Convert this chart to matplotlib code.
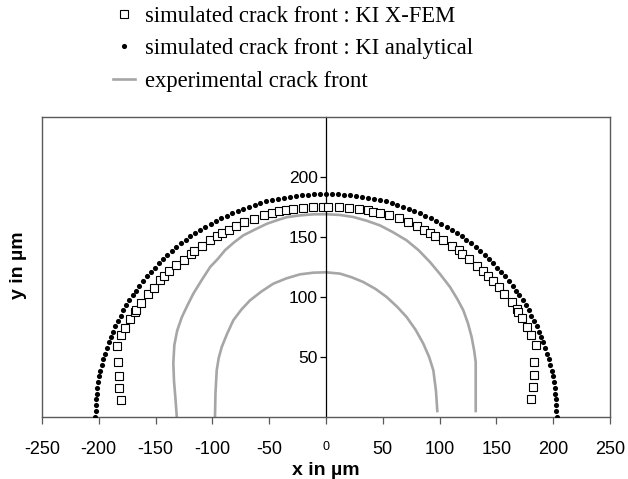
import matplotlib
matplotlib.use('Agg')
import matplotlib.pyplot as plt

# simulated crack front : KI X-FEM (open squares)
xfem_x = [-180.5, -181.9, -181.9, -182.8, -183.7, -180.2, -176.7, -172.5, -168.0, -167.0,
          -162.9, -156.4, -151.1, -146.1, -142.3, -137.9, -132.0, -125.0, -119.1, -116.2,
          -109.4, -102.1, -95.6, -91.2, -85.4, -79.2, -72.2, -63.4, -54.6, -47.3,
          -41.1, -35.5, -28.8, -20.0, -11.2, -2.9,
          2.1, 11.4, 20.5, 29.3, 36.7, 41.7, 47.8, 55.5, 64.0, 72.5,
          79.8, 86.3, 91.5, 96.2, 102.7, 110.6, 116.8, 120.0, 125.9, 132.6,
          138.5, 142.9, 147.3, 152.0, 157.0, 163.4, 167.8, 169.3, 172.8, 177.2,
          180.5, 184.6, 183.4, 182.8, 182.5, 180.7]
xfem_y = [14.5, 24.5, 34.5, 45.8, 59.2, 68.0, 74.2, 81.7, 87.8, 89.0,
          95.0, 102.2, 107.8, 113.9, 117.2, 121.4, 126.4, 131.1, 135.8, 138.0,
          142.2, 147.2, 151.1, 153.6, 155.8, 159.5, 162.3, 165.3, 168.3, 170.3,
          171.7, 172.8, 173.6, 174.5, 174.8, 174.8,
          174.8, 175.1, 174.5, 173.4, 172.3, 171.2, 170.4, 168.5, 165.5, 162.5,
          159.4, 155.8, 153.1, 150.8, 147.2, 142.8, 139.2, 136.1, 131.7, 126.1,
          121.4, 117.5, 113.1, 108.6, 102.8, 95.6, 89.7, 87.2, 82.2, 74.7,
          68.3, 59.7, 45.8, 34.7, 24.7, 14.7]

# simulated crack front : KI analytical (dots)
ana_x = [-203.0, -202.9, -202.7, -202.4, -201.9, -201.3, -200.5, -199.6, -198.6, -197.4,
         -196.1, -194.6, -193.1, -191.4, -189.5, -187.5, -185.5, -183.2, -180.9, -178.4,
         -175.8, -173.1, -170.3, -167.3, -164.2, -161.1, -157.8, -154.4, -150.9, -147.3,
         -143.5, -139.7, -135.8, -131.8, -127.8, -123.6, -119.3, -115.0, -110.6, -106.1,
         -101.5, -96.9, -92.2, -87.4, -82.6, -77.7, -72.7, -67.8, -62.7, -57.7,
         -52.5, -47.4, -42.2, -37.0, -31.8, -26.5, -21.2, -15.9, -10.6, -5.3,
         0.0,
         5.3, 10.6, 15.9, 21.2, 26.5, 31.8, 37.0, 42.2, 47.4, 52.5,
         57.7, 62.7, 67.8, 72.7, 77.7, 82.6, 87.4, 92.2, 96.9, 101.5,
         106.1, 110.6, 115.0, 119.3, 123.6, 127.8, 131.8, 135.8, 139.7, 143.5,
         147.3, 150.9, 154.4, 157.8, 161.1, 164.2, 167.3, 170.3, 173.1, 175.8,
         178.4, 180.9, 183.2, 185.5, 187.5, 189.5, 191.4, 193.1, 194.6, 196.1,
         197.4, 198.6, 199.6, 200.5, 201.3, 201.9, 202.4, 202.7, 202.9, 203.0]
ana_y = [0.0, 4.9, 9.7, 14.6, 19.4, 24.3, 29.1, 33.9, 38.7, 43.4,
         48.1, 52.8, 57.5, 62.1, 66.7, 71.2, 75.7, 80.1, 84.4, 88.8,
         93.0, 97.2, 101.3, 105.4, 109.3, 113.2, 117.1, 120.8, 124.5, 128.0,
         131.5, 134.9, 138.2, 141.4, 144.6, 147.6, 150.5, 153.3, 156.0, 158.6,
         161.1, 163.5, 165.7, 167.9, 169.9, 171.8, 173.6, 175.3, 176.9, 178.3,
         179.7, 180.9, 181.9, 182.9, 183.7, 184.4, 185.0, 185.4, 185.7, 185.9,
         186.0,
         185.9, 185.7, 185.4, 185.0, 184.4, 183.7, 182.9, 181.9, 180.9, 179.7,
         178.3, 176.9, 175.3, 173.6, 171.8, 169.9, 167.9, 165.7, 163.5, 161.1,
         158.6, 156.0, 153.3, 150.5, 147.6, 144.6, 141.4, 138.2, 134.9, 131.5,
         128.0, 124.5, 120.8, 117.1, 113.2, 109.3, 105.4, 101.3, 97.2, 93.0,
         88.8, 84.4, 80.1, 75.7, 71.2, 66.7, 62.1, 57.5, 52.8, 48.1,
         43.4, 38.7, 33.9, 29.1, 24.3, 19.4, 14.6, 9.7, 4.9, 0.0]

# experimental crack fronts (outer and inner)
exp1_x = [-131.4, -132.5, -133.8, -134.4, -133.5, -131.0, -127.0, -122.0, -116.8, -109.5,
          -102.0, -95.0, -88.9, -81.0, -72.8, -62.0, -52.2, -43.0, -34.6, -23.0,
          -11.2, 0.0, 12.0, 24.0, 36.0, 47.5, 59.0, 71.0, 81.5, 91.5,
          100.5, 109.2, 115.5, 120.9, 125.0, 128.2, 130.5, 131.8, 131.8, 131.8]
exp1_y = [1.0, 15.0, 30.0, 45.0, 60.0, 72.0, 83.0, 93.0, 102.8, 114.0,
          125.0, 132.0, 139.0, 145.5, 151.4, 156.5, 161.0, 164.0, 166.5, 168.0,
          168.9, 169.0, 168.4, 166.7, 163.5, 159.7, 154.0, 147.2, 139.0, 129.2,
          119.0, 108.3, 98.5, 88.9, 78.0, 66.7, 55.0, 45.8, 25.0, 5.0]
exp2_x = [-97.7, -97.3, -96.2, -94.5, -91.8, -87.0, -81.6, -74.5, -66.9, -57.0,
          -46.4, -35.0, -22.9, -11.0, 0.0, 12.3, 22.5, 32.8, 43.5, 53.4,
          62.5, 71.0, 79.0, 85.7, 90.8, 94.5, 96.8, 98.0]
exp2_y = [1.0, 20.0, 38.9, 49.0, 58.3, 69.5, 80.6, 89.5, 97.2, 104.5,
          111.1, 115.5, 118.9, 120.3, 120.6, 119.5, 116.5, 112.5, 106.8, 100.0,
          92.0, 83.3, 72.5, 61.1, 50.0, 38.9, 22.0, 5.0]

xticks = [-250, -200, -150, -100, -50, 0, 50, 100, 150, 200, 250]
yticks = [50, 100, 150, 200]

fig = plt.figure(figsize=(6.28, 4.79), dpi=100)
ax = fig.add_axes([0.0669, 0.1294, 0.9044, 0.6263])

ax.plot(exp1_x, exp1_y, color='#a6a6a6', lw=1.9, label='experimental crack front', zorder=2)
ax.plot(exp2_x, exp2_y, color='#a6a6a6', lw=1.9, zorder=2)
ax.plot(xfem_x, xfem_y, ls='none', marker='s', ms=6.4, mfc='white', mec='black', mew=0.8,
        label='simulated crack front : KI X-FEM', zorder=3)
ax.plot(ana_x, ana_y, ls='none', marker='o', ms=3.7, mfc='black', mec='black', mew=0,
        label='simulated crack front : KI analytical', zorder=4)

ax.set_xlim(-250, 250)
ax.set_ylim(0, 250)

# y axis sits on x = 0, the box keeps its left edge
ax.spines['left'].set_position(('data', 0))
ax.spines['left'].set_color('black')
ax.spines['left'].set_linewidth(0.9)
for s in ['top', 'right', 'bottom']:
    ax.spines[s].set_color('#5a5a5a')
    ax.spines[s].set_linewidth(1.0)
ax.plot([0, 0], [0, 1], transform=ax.transAxes, color='#5a5a5a', lw=1.0, clip_on=False)

ax.set_xticks(xticks)
ax.set_xticklabels([str(t) for t in xticks], fontfamily='Liberation Sans', fontsize=13)
ax.set_yticks(yticks)
ax.set_yticklabels([str(t) for t in yticks], fontfamily='Liberation Sans', fontsize=12.5)
for lab in ax.get_xticklabels():
    if lab.get_text() == '0':
        lab.set_fontsize(9)
ax.tick_params(axis='x', direction='out', length=5, width=0.9, color='#5a5a5a', pad=12)
ax.tick_params(axis='y', direction='out', length=4, width=0.9, color='black', pad=2)

ax.set_xlabel('x in µm', fontfamily='Liberation Sans', fontsize=14, fontweight='bold', labelpad=3)
fig.text(0.029, 0.447, 'y in µm', rotation=90, ha='center', va='center',
         fontfamily='Liberation Sans', fontsize=14, fontweight='bold')

h, l = ax.get_legend_handles_labels()
order = [1, 2, 0]
leg = ax.legend([h[i] for i in order], [l[i] for i in order], loc='upper left',
                bbox_to_anchor=(113 / 628, 1 - 6 / 479), bbox_transform=fig.transFigure,
                frameon=False, numpoints=1, borderpad=0, borderaxespad=0,
                handlelength=0.97, handletextpad=0.45, labelspacing=0.5,
                prop={'family': 'Liberation Serif', 'size': 16.3})

plt.savefig('out.png', dpi=100)
